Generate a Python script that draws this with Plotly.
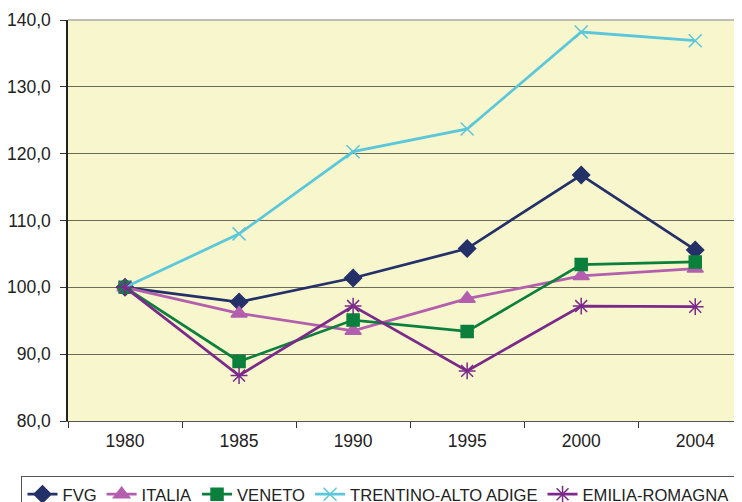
import plotly.graph_objects as go

# data
years = ['1980', '1985', '1990', '1995', '2000', '2004']
fvg = [100.0, 97.8, 101.4, 105.8, 116.8, 105.6]
italia = [100.0, 96.1, 93.5, 98.3, 101.7, 102.8]
veneto = [100.0, 88.9, 95.1, 93.4, 103.4, 103.8]
trentino = [100.0, 108.0, 120.3, 123.7, 138.2, 136.9]
emilia = [100.0, 86.8, 97.2, 87.5, 97.2, 97.1]

series = [
    ('FVG', fvg, '#243168', 'diamond', 13),
    ('ITALIA', italia, '#B35FAE', 'triangle-up', 14),
    ('VENETO', veneto, '#0B7F3C', 'square', 12),
    ('TRENTINO-ALTO ADIGE', trentino, '#5AC7DB', 'x-thin-open', 13),
    ('EMILIA-ROMAGNA', emilia, '#7B2A8A', 'asterisk-open', 14),
]

fig = go.Figure()
for name, vals, color, symbol, size in series:
    fig.add_trace(go.Scatter(
        x=years, y=vals, name=name, mode='lines+markers',
        line=dict(color=color, width=2.75),
        marker=dict(symbol=symbol, size=size, color=color,
                    line=dict(color=color, width=1.5)),
    ))

# the page body adds an 8px offset, so the figure is 8px smaller to fill the window
fig.update_layout(
    width=734, height=494,
    margin=dict(l=60, r=0, t=12, b=81, autoexpand=False),
    paper_bgcolor='white',
    plot_bgcolor='#F7F6CC',
    separators=',.',
    font=dict(family='Liberation Sans, Arial, sans-serif', size=17.5, color='#222222'),
    showlegend=True,
    legend=dict(
        orientation='h', x=-0.069, xanchor='left', y=-0.137, yanchor='top',
        bordercolor='#555555', borderwidth=1,
        font=dict(family='Liberation Sans, Arial, sans-serif', size=16.6),
        itemwidth=30, tracegroupgap=0, bgcolor='white',
    ),
)
fig.update_xaxes(
    type='category', range=[-0.5, 5.41], tickson='boundaries',
    ticks='outside', ticklen=6, tickcolor='#333333',
    showline=True, linecolor='#555555', linewidth=1,
    showgrid=False, tickfont=dict(size=17.5), automargin=False,
    ticklabelstandoff=4,
)
fig.update_yaxes(
    range=[80, 140], dtick=10, tickformat='.1f',
    ticks='outside', ticklen=6, tickcolor='#333333',
    showline=True, linecolor='#222222', linewidth=1.5,
    showgrid=True, gridcolor='#6b6b5a', gridwidth=1,
    tickfont=dict(size=17.5), zeroline=False, automargin=False,
    ticklabelstandoff=6,
)
# gray top border of the plot area
fig.add_shape(type='line', xref='paper', yref='paper', x0=0, x1=1, y0=1, y1=1,
              line=dict(color='#aaaaaa', width=1.5))

fig.write_html('out.html')
